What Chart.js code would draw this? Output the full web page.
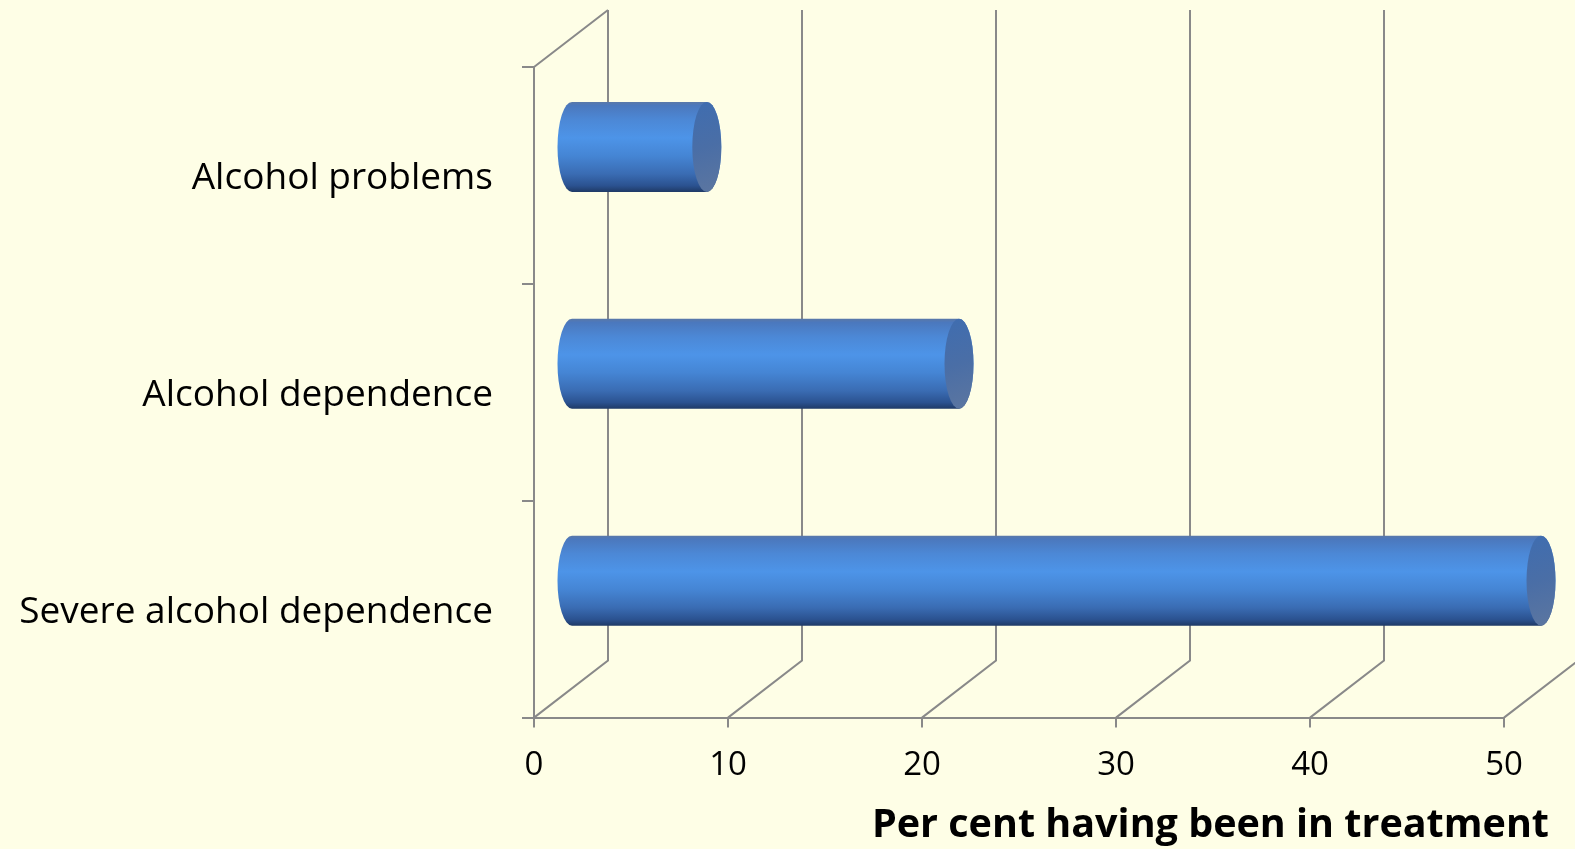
<!DOCTYPE html>
<html>
<head>
<meta charset="utf-8">
<script src="https://cdn.jsdelivr.net/npm/chart.js@4.4.1/dist/chart.umd.min.js"></script>
<style>
  html, body { margin: 0; padding: 0; background: #fefee6; }
  #wrap { width: 1575px; height: 849px; }
</style>
</head>
<body>
<div id="wrap"><canvas id="treatmentChart"></canvas></div>
<script>
const categories = ['Alcohol problems', 'Alcohol dependence', 'Severe alcohol dependence'];
const treatedPct = [7, 20, 50];
const xTicks = [0, 10, 20, 30, 40, 50];
const axisTitle = 'Per cent having been in treatment';

// fake 3D depth of the plot box
const DEPTH_X = 74, DEPTH_Y = -57;
const gridColor = '#898989';

// back wall + floor lines, drawn behind the bars
const wallGrid = {
    id: 'wallGrid',
    beforeDatasetsDraw(chart) {
        const { ctx, chartArea: { top, bottom, left }, scales: { x } } = chart;
        ctx.save();
        ctx.strokeStyle = gridColor;
        ctx.lineWidth = 2;
        ctx.beginPath();
        ctx.moveTo(left, top);
        ctx.lineTo(left + DEPTH_X, top + DEPTH_Y);
        xTicks.forEach(v => {
            const px = x.getPixelForValue(v);
            ctx.moveTo(px, bottom);
            ctx.lineTo(px + DEPTH_X, bottom + DEPTH_Y);
            ctx.lineTo(px + DEPTH_X, top + DEPTH_Y);
        });
        ctx.stroke();
        ctx.restore();
    }
};

// turn each bar into a cylinder sitting half way into the box
const cylinders = {
    id: 'cylinders',
    afterDatasetsDraw(chart) {
        const ctx = chart.ctx;
        chart.getDatasetMeta(0).data.forEach(bar => {
            const { x, y, base, height } = bar.getProps(['x', 'y', 'base', 'height'], true);
            const x0 = base + DEPTH_X / 2, x1 = x + DEPTH_X / 2, cy = y + DEPTH_Y / 2;
            const ry = height / 2, rx = 14.5;
            const yTop = cy - ry, yBot = cy + ry;

            ctx.save();
            const body = ctx.createLinearGradient(0, yTop, 0, yBot);
            body.addColorStop(0, '#5a78a8');
            body.addColorStop(0.04, '#4b78bd');
            body.addColorStop(0.2, '#4c88d6');
            body.addColorStop(0.4, '#4d94e8');
            body.addColorStop(0.6, '#4585d4');
            body.addColorStop(0.8, '#3a6cb3');
            body.addColorStop(0.93, '#2b5290');
            body.addColorStop(1, '#1f3a66');
            ctx.beginPath();
            ctx.moveTo(x0, yTop);
            ctx.lineTo(x1, yTop);
            ctx.ellipse(x1, cy, rx, ry, 0, -Math.PI / 2, Math.PI / 2);
            ctx.lineTo(x0, yBot);
            ctx.ellipse(x0, cy, rx, ry, 0, Math.PI / 2, Math.PI * 1.5);
            ctx.closePath();
            ctx.fillStyle = body;
            ctx.fill();

            const cap = ctx.createLinearGradient(x1 - rx, yTop, x1 + rx, yBot);
            cap.addColorStop(0, '#3f6db0');
            cap.addColorStop(0.5, '#4a6ea6');
            cap.addColorStop(1, '#5c76a0');
            ctx.beginPath();
            ctx.ellipse(x1, cy, rx, ry, 0, 0, Math.PI * 2);
            ctx.fillStyle = cap;
            ctx.fill();
            ctx.restore();
        });
    }
};

new Chart(document.getElementById('treatmentChart'), {
    type: 'bar',
    data: {
        labels: categories,
        datasets: [{
            data: treatedPct,
            backgroundColor: 'rgba(0,0,0,0)',
            borderWidth: 0,
            categoryPercentage: 1,
            barPercentage: 0.415
        }]
    },
    options: {
        indexAxis: 'y',
        responsive: true,
        maintainAspectRatio: false,
        animation: false,
        layout: { padding: { top: 67, right: 26, bottom: 0, left: 0 } },
        plugins: {
            legend: { display: false },
            tooltip: { enabled: false },
            title: {
                display: true,
                position: 'bottom',
                align: 'end',
                text: axisTitle,
                color: '#000',
                font: { family: 'Open Sans', size: 39.5, weight: 'bold' },
                padding: { top: 6, bottom: 0 }
            }
        },
        scales: {
            x: {
                min: 0,
                max: 50,
                afterBuildTicks: s => { s.ticks = xTicks.map(v => ({ value: v })); },
                afterFit: s => { s.height = 78; s.paddingRight = 71; },
                border: { display: true, color: gridColor, width: 2 },
                grid: { drawOnChartArea: false, drawTicks: true, tickLength: 10, color: gridColor, lineWidth: 2 },
                ticks: { color: '#000', font: { family: 'Open Sans', size: 33 }, padding: 18, maxRotation: 0 }
            },
            y: {
                afterFit: s => { s.width = 534; },
                border: { display: true, color: gridColor, width: 2 },
                grid: { offset: true, drawOnChartArea: false, drawTicks: true, tickLength: 12, color: gridColor, lineWidth: 2 },
                ticks: { color: '#000', font: { family: 'Open Sans', size: 37 }, padding: 29, labelOffset: 3 }
            }
        }
    },
    plugins: [wallGrid, cylinders]
});
</script>
</body>
</html>
